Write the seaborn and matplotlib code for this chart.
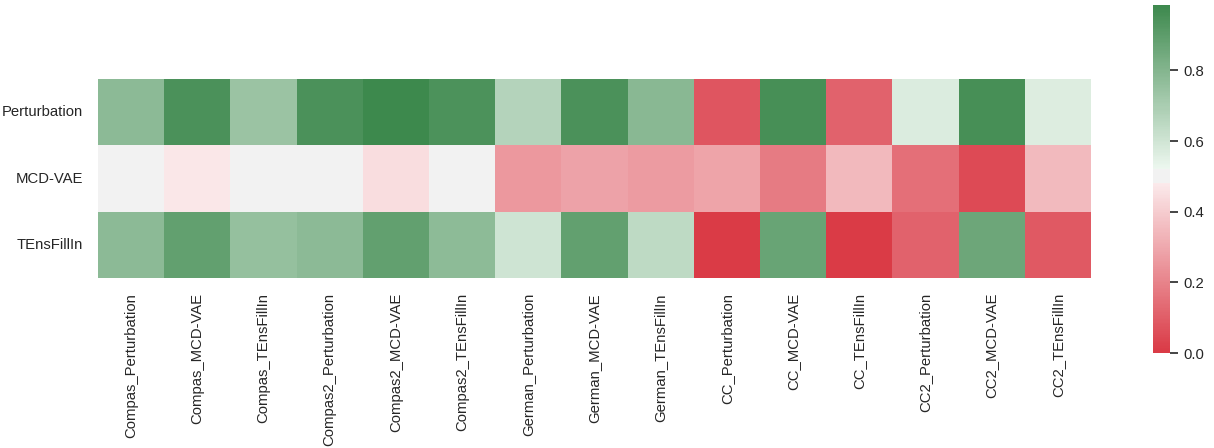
import numpy as np
import pandas as pd
import matplotlib
matplotlib.use("Agg")
import matplotlib.pyplot as plt
import seaborn as sns
from seaborn.external import husl
from seaborn.utils import set_hls_values

rows = ["Perturbation", "MCD-VAE", "TEnsFillIn"]
cols = ["Compas_Perturbation", "Compas_MCD-VAE", "Compas_TEnsFillIn",
        "Compas2_Perturbation", "Compas2_MCD-VAE", "Compas2_TEnsFillIn",
        "German_Perturbation", "German_MCD-VAE", "German_TEnsFillIn",
        "CC_Perturbation", "CC_MCD-VAE", "CC_TEnsFillIn",
        "CC2_Perturbation", "CC2_MCD-VAE", "CC2_TEnsFillIn"]

perturbation = [0.78, 0.95, 0.74, 0.95, 0.985, 0.945, 0.67, 0.95, 0.785,
                0.077, 0.955, 0.115, 0.567, 0.955, 0.564]
mcd_vae = [0.50, 0.47, 0.50, 0.50, 0.445, 0.50, 0.254, 0.284, 0.264,
           0.288, 0.178, 0.344, 0.148, 0.048, 0.352]
tensfillin = [0.78, 0.887, 0.757, 0.779, 0.887, 0.776, 0.604, 0.887, 0.644,
              0.0, 0.87, 0.005, 0.113, 0.861, 0.085]

df = pd.DataFrame([perturbation, mcd_vae, tensfillin], index=rows, columns=cols)

sns.set_theme(style="ticks")
plt.rcParams["font.family"] = ["Liberation Sans", "DejaVu Sans"]
plt.rcParams["text.color"] = "#262626"
plt.rcParams["xtick.color"] = "#262626"
plt.rcParams["ytick.color"] = "#262626"

# classic seaborn red-green diverging palette (sep=10, tinted light ends)
sep = 10
n_half = int(128 - (sep // 2))
red = husl.husl_to_rgb(10, 75, 50)
green = husl.husl_to_rgb(133, 75, 50)
light_red = set_hls_values(red, l=.95)
light_green = set_hls_values(green, l=.95)
neg = sns.blend_palette([red, light_red], n_half)
pos = sns.blend_palette([light_green, green], n_half)
mid = [(0.95, 0.95, 0.95)] * sep
cmap = sns.blend_palette(list(neg) + mid + list(pos), as_cmap=True)

fig = plt.figure(figsize=(12.14, 4.48), dpi=100)
ax = fig.add_axes([98 / 1214, (448 - 278) / 448, 993 / 1214, 199 / 448])
cax = fig.add_axes([1153 / 1214, (448 - 353) / 448, 17 / 1214, 348 / 448])

sns.heatmap(df, cmap=cmap, center=0.5, ax=ax, cbar_ax=cax)

ax.tick_params(axis="x", length=0, pad=10.8, labelsize=10.7, labelrotation=90)
ax.tick_params(axis="y", length=0, pad=10.6, labelsize=10.7, labelrotation=0)
cax.tick_params(length=5.5, width=1.2, pad=4.4, labelsize=10.7, color="#262626")
cax.set_yticks([0.0, 0.2, 0.4, 0.6, 0.8])

fig.savefig("out.png", dpi=100)
